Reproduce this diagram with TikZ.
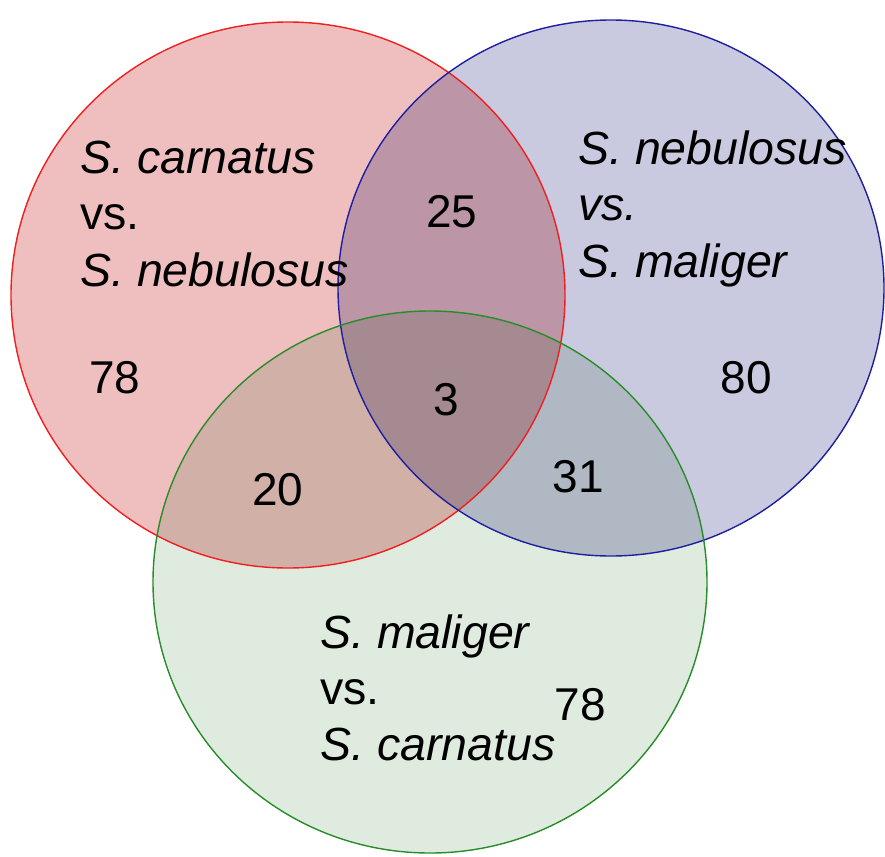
\documentclass[tikz,border=0pt]{standalone}
\usepackage{fontspec}
\setmainfont{Liberation Sans}
\definecolor{redfill}{RGB}{239,191,192}
\definecolor{bluefill}{RGB}{201,201,223}
\definecolor{greenfill}{RGB}{224,235,224}
\definecolor{redline}{RGB}{240,30,30}
\definecolor{blueline}{RGB}{30,30,160}
\definecolor{greenline}{RGB}{40,140,40}
\tikzset{
  setline/.style={line width=1.4pt},
  lbl/.style={inner sep=0pt, anchor=base west, font=\fontsize{46.5}{56}\selectfont},
  num/.style={inner sep=0pt, anchor=center, font=\fontsize{46}{56}\selectfont},
}
\begin{document}
\begin{tikzpicture}[x=1pt,y=-1pt]
\useasboundingbox (0,0) rectangle (885,856);
\begin{scope}[blend mode=multiply]
  \fill[redfill] (288,295) ellipse [x radius=277, y radius=273];
  \fill[bluefill] (611,288) ellipse [x radius=273, y radius=268];
  \fill[greenfill] (430,582) ellipse [x radius=277, y radius=271];
\end{scope}
\draw[setline, redline] (288,295) ellipse [x radius=277, y radius=273];
\draw[setline, blueline] (611,288) ellipse [x radius=273, y radius=268];
\draw[setline, greenline] (430,582) ellipse [x radius=277, y radius=271];

\node[lbl] (r1) at (80,173) {\itshape S. carnatus};
\node[lbl] (r2) at (80,229) {vs.};
\node[lbl] (r3) at (80,286) {\itshape S. nebulosus};

\node[lbl] (b1) at (578,164) {\itshape S. nebulosus};
\node[lbl] (b2) at (578,220) {\itshape vs.};
\node[lbl] (b3) at (578,277) {\itshape S. maliger};

\node[lbl] (g1) at (320,648) {\itshape S. maliger};
\node[lbl] (g2) at (320,704) {vs.};
\node[lbl] (g3) at (320,760) {\itshape S. carnatus};

\node[num] (n25) at (452,212) {25};
\node[num] (n78a) at (115,378) {78};
\node[num] (n80) at (746,378) {80};
\node[num] (n3) at (446,400) {3};
\node[num] (n20) at (278,490) {20};
\node[num] (n31) at (578,477) {31};
\node[num] (n78b) at (580,705) {78};
\end{tikzpicture}
\end{document}
